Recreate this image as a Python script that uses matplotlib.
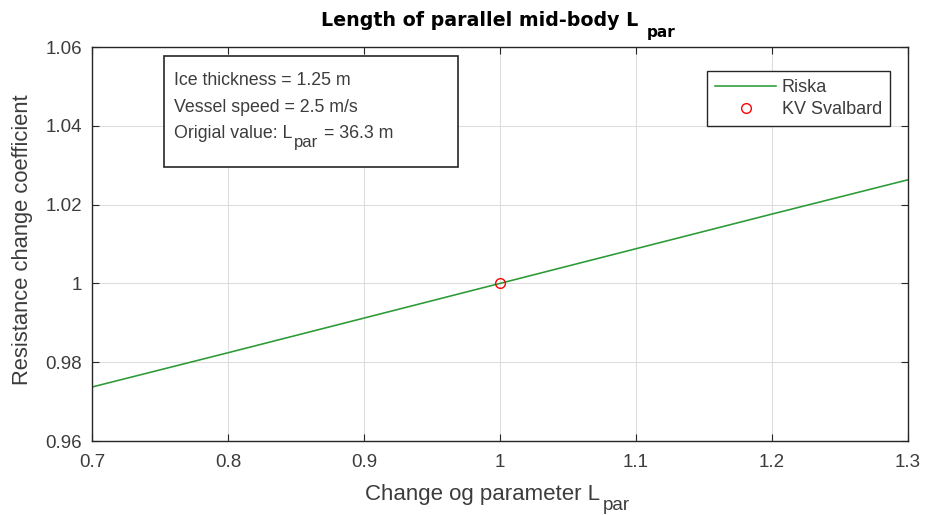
import numpy as np
import matplotlib as mpl
mpl.use('Agg')
import matplotlib.pyplot as plt
from matplotlib.patches import Rectangle

plt.rcParams['font.family'] = ['Liberation Sans', 'DejaVu Sans']

# data
change = [0.7, 0.8, 0.9, 1.0, 1.1, 1.2, 1.3]
riska = [0.9737, 0.9824, 0.9912, 1.0, 1.0088, 1.0176, 1.0263]
kv_x = [1.0]
kv_y = [1.0]
xticks = [0.7, 0.8, 0.9, 1.0, 1.1, 1.2, 1.3]
xticklabels = ['0.7', '0.8', '0.9', '1', '1.1', '1.2', '1.3']
yticks = [0.96, 0.98, 1.0, 1.02, 1.04, 1.06]
yticklabels = ['0.96', '0.98', '1', '1.02', '1.04', '1.06']

txtcol = '#3c3c3c'
W, H = 927, 515

fig = plt.figure(figsize=(W / 100, H / 100), dpi=100)
ax = fig.add_axes([92 / W, 1 - 441 / H, 816 / W, 394 / H])
renderer = fig.canvas.get_renderer()


def ptext(x, y, s, **kw):
    # text at pixel position, y measured from the top
    return fig.text(x / W, 1 - y / H, s, va='baseline', ha='left', **kw)


def sub_after(t, s, gap, drop, **kw):
    # MATLAB style subscript, dropped below the baseline of t
    bb = t.get_window_extent(renderer)
    y0 = H - t.get_position()[1] * H
    return ptext(bb.x1 + gap, y0 + drop, s, **kw)


ax.plot(change, riska, color='#2a9a35', lw=1.15, label='Riska')
ax.plot(kv_x, kv_y, 'o', mfc='none', mec='red', ms=7, mew=1.0, label='KV Svalbard')

ax.set_xlim(0.7, 1.3)
ax.set_ylim(0.96, 1.06)
ax.set_xticks(xticks)
ax.set_xticklabels(xticklabels)
ax.set_yticks(yticks)
ax.set_yticklabels(yticklabels)
ax.grid(True, color='#dedede', lw=0.8)
ax.set_axisbelow(True)
ax.tick_params(direction='in', top=True, right=True, labelsize=13.5,
               colors='#262626', labelcolor=txtcol, length=5)
ax.tick_params(axis='x', pad=9.5)
ax.tick_params(axis='y', pad=7)
for s in ax.spines.values():
    s.set_color('#262626')
    s.set_linewidth(1.0)

# title
t = ptext(321, 26, 'Length of parallel mid-body L', family='DejaVu Sans',
          fontweight='bold', fontsize=13.7, color='black')
sub_after(t, 'par', 9, 10.5, family='DejaVu Sans', fontweight='bold',
          fontsize=11, color='black')

# axis labels
t = ptext(365, 500, 'Change og parameter L', fontsize=16, color=txtcol)
sub_after(t, 'par', 3, 10.5, fontsize=13.5, color=txtcol)
fig.text(23 / W, 1 - 240 / H, 'Resistance change coefficient', fontsize=15.8,
         color=txtcol, ha='center', va='center', rotation=90)

# info box
ax.add_patch(Rectangle(((164 - 92) / 816, (441 - 167) / 394), 294 / 816, 111 / 394,
                       transform=ax.transAxes, fc='white', ec='#262626', lw=1.2,
                       zorder=4))
ptext(174, 85, 'Ice thickness = 1.25 m', fontsize=12.8, color=txtcol, zorder=5)
ptext(174, 111.5, 'Vessel speed = 2.5 m/s', fontsize=12.8, color=txtcol, zorder=5)
t = ptext(174, 137.5, 'Origial value: L', fontsize=12.8, color=txtcol, zorder=5)
t2 = sub_after(t, 'par', 1.5, 10, fontsize=12, color=txtcol, zorder=5)
bb = t2.get_window_extent(renderer)
ptext(bb.x1 + 6, 137.5, '= 36.3 m', fontsize=12.8, color=txtcol, zorder=5)

leg = ax.legend(loc='upper right', bbox_to_anchor=((890 - 92) / 816, (441 - 71) / 394),
                borderaxespad=0, fontsize=13, fancybox=False, framealpha=1,
                edgecolor='#262626', handlelength=3.4, borderpad=0.45,
                labelspacing=0.28, handletextpad=0.3)
leg.get_frame().set_linewidth(1.0)
for t in leg.get_texts():
    t.set_color(txtcol)

plt.savefig('out.png', dpi=100)
